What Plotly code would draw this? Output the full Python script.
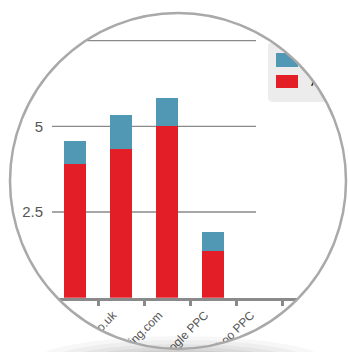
import numpy as np
import plotly.graph_objects as go

# ---- data ----
categories = ["Pricerunner", "Kelkoo.co.uk", "Shopping.com", "Google PPC", "Yahoo PPC", "Bing PPC"]
ads_values = [3.9, 4.35, 5.0, 1.35, 0, 0]
bid_values = [0.67, 0.98, 0.83, 0.58, 0, 0]
y_ticks = [2.5, 5, 7.5]
y_tick_labels = ["2.5", "5", "7.5"]
series_names = ["Bids", "Ads"]

W, H = 348, 352
FONT = "Liberation Sans, Arial, sans-serif"
RED = "#e41e26"
BLUE = "#5098b4"
GRID = "#8a8a8a"

# magnifier lens geometry (pixels)
CX, CY, R = 178, 181, 168


def px(x):
    return x / W


def py(y):
    return 1 - y / H


fig = go.Figure()
fig.add_trace(go.Bar(x=categories, y=ads_values, name=series_names[1],
                     marker=dict(color=RED, line=dict(width=0)), showlegend=False))
fig.add_trace(go.Bar(x=categories, y=bid_values, name=series_names[0],
                     marker=dict(color=BLUE, line=dict(width=0)), showlegend=False))

# legend text on a pixel-unit overlay so the lens mask can clip it
fig.add_trace(go.Scatter(x=[311, 311], y=[60, 82], mode="text", text=series_names,
                         textposition="middle right", cliponaxis=False,
                         textfont=dict(family=FONT, size=14, color="#222"),
                         xaxis="x2", yaxis="y2", showlegend=False, hoverinfo="skip"))

y_bottom = (H - 297.7) / H
y_top = (H - 23.5) / H

shapes = []
# horizontal gridlines
for t in y_ticks:
    shapes.append(dict(type="line", xref="paper", yref="y", x0=px(52), x1=px(256), y0=t, y1=t,
                       line=dict(color=GRID, width=1.3), layer="below"))

# legend box + swatches
shapes.append(dict(type="path", xref="x2", yref="y2", layer="below",
                   path="M273,42 H360 V102 H273 Q268,102 268,97 V47 Q268,42 273,42 Z",
                   fillcolor="#ececec", line=dict(width=0)))
shapes.append(dict(type="rect", xref="x2", yref="y2", x0=276, x1=298, y0=53, y1=67,
                   fillcolor=BLUE, line=dict(width=0), layer="below"))
shapes.append(dict(type="rect", xref="x2", yref="y2", x0=276, x1=298, y0=75, y1=88,
                   fillcolor=RED, line=dict(width=0), layer="below"))

# white mask outside the lens (paper units, not clipped to any subplot)
ang = np.linspace(0, 2 * np.pi, 241)[:-1]
ring = " ".join(f"L{px(CX + R * np.cos(a)):.5f},{py(CY + R * np.sin(a)):.5f}" for a in ang)
ring = "M" + ring[1:]
mask = f"M-0.1,-0.1 H1.1 V1.1 H-0.1 Z {ring} Z"
shapes.append(dict(type="path", xref="paper", yref="paper", path=mask, fillcolor="white",
                   line=dict(width=0), layer="above"))

# soft shadow under the lens
for rx, ry, op in [(150, 28, 0.03), (135, 24, 0.035), (120, 20, 0.04),
                   (105, 17, 0.045), (90, 14, 0.05), (75, 11, 0.05)]:
    shapes.append(dict(type="circle", xref="paper", yref="paper",
                       x0=px(180 - rx), x1=px(180 + rx), y0=py(364 - ry), y1=py(364 + ry),
                       fillcolor=f"rgba(0,0,0,{op})", line=dict(width=0), layer="above"))

# lens rim
shapes.append(dict(type="circle", xref="paper", yref="paper",
                   x0=px(CX - R), x1=px(CX + R), y0=py(CY - R), y1=py(CY + R),
                   line=dict(color="#a9a9a9", width=2.5),
                   fillcolor="rgba(0,0,0,0)", layer="above"))

fig.update_layout(
    width=W, height=H, margin=dict(l=0, r=0, t=0, b=0, pad=0, autoexpand=False),
    paper_bgcolor="white", plot_bgcolor="rgba(0,0,0,0)",
    barmode="stack", bargap=0.52, showlegend=False,
    font=dict(family=FONT, color="#555"),
    xaxis=dict(domain=[px(52), px(328)], anchor="y", type="category", automargin=False,
               showgrid=False, showline=True, linecolor=GRID, linewidth=2.5,
               ticks="outside", tickson="boundaries", ticklen=6, tickwidth=2.5,
               tickcolor=GRID, tickangle=-45, tickfont=dict(size=12, color="#555"),
               ticklabelshift=-8, ticklabelstandoff=3,
               range=[-0.5, 5.5], fixedrange=True, zeroline=False),
    yaxis=dict(domain=[y_bottom, y_top], anchor="x", range=[0, 8], automargin=False,
               tickvals=y_ticks, ticktext=y_tick_labels, showgrid=False,
               showline=False, zeroline=False, ticks="", ticklabelstandoff=8,
               tickfont=dict(size=15, color="#555")),
    xaxis2=dict(domain=[0, 1], anchor="y2", range=[0, W], visible=False,
                fixedrange=True, automargin=False),
    yaxis2=dict(domain=[0, 1], anchor="x2", range=[H, 0], visible=False,
                fixedrange=True, automargin=False),
    shapes=shapes,
)

fig.write_html("out.html")
